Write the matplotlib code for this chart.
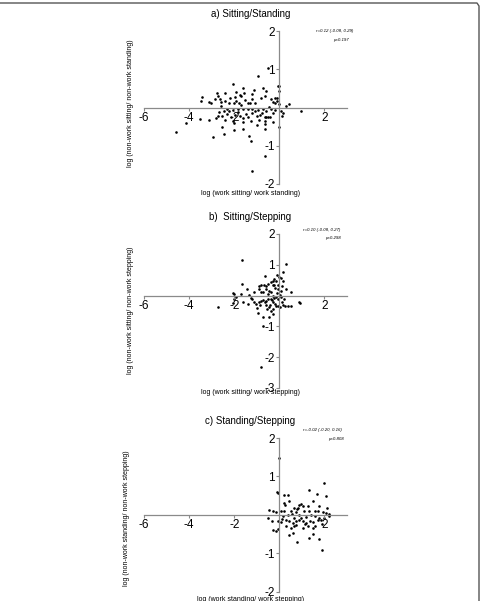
import numpy as np
import matplotlib
matplotlib.use("Agg")
import matplotlib.pyplot as plt
from matplotlib.lines import Line2D

plt.rcParams['font.family'] = ['Liberation Sans', 'DejaVu Sans']
plt.rcParams['axes.unicode_minus'] = False

# a) Sitting/Standing
a_x = [-0.52, -0.96, -2.07, -1.59, -0.71, -0.04, 0.00, -0.03, -0.59, -1.11, -1.94, -1.75,
       -2.43, -2.77, -2.74, -3.44, -3.48, -3.14, -3.02, -2.64, -2.59, -2.22, -2.18, -1.69,
       -1.57, -1.19, -1.21, -1.08, -0.83, -0.65, -0.36, -0.18, -0.12, -0.28, -0.21, -0.12,
       -0.03, -1.90, -2.00, -1.53, -1.41, -1.30, -2.40, -1.81, 0.30, 0.44, 0.96, 0.06,
       0.15, 0.13, 0.00, -2.67, -2.47, -2.22, -2.07, -1.85, -1.63, -1.41, -1.21, -0.96,
       -0.74, -0.59, -0.37, -0.19, -2.71, -2.52, -2.30, -2.15, -1.96, -1.75, -1.60, -1.41,
       -1.19, -1.01, -0.77, -0.65, -0.59, -0.50, -0.41, -0.27, -4.15, -3.52, -3.10, -2.81,
       -2.40, -2.07, -2.03, -1.59, -1.26, -0.89, -0.64, -0.64, -2.52, -2.03, -1.63, -0.64,
       -4.59, -2.96, -2.47, -1.33, -1.24, -0.64, -1.23, -2.30, -1.85, -1.50, -1.10, -0.85,
       -2.60, -1.70, -0.45, -1.95, -1.00, -2.85, -0.30]
a_y = [1.03, 0.83, 0.62, 0.51, 0.51, 0.56, 0.56, 0.43, 0.42, 0.46, 0.40, 0.33,
       0.37, 0.37, 0.29, 0.28, 0.16, 0.14, 0.12, 0.22, 0.14, 0.13, 0.24, 0.29,
       0.37, 0.35, 0.23, 0.13, 0.26, 0.29, 0.22, 0.26, 0.26, 0.14, 0.13, 0.16,
       0.10, 0.18, 0.13, 0.20, 0.13, 0.11, 0.16, 0.11, 0.05, 0.09, -0.10, -0.10,
       -0.15, -0.22, -0.50, -0.11, -0.10, -0.08, -0.06, -0.04, -0.04, -0.03, -0.04, -0.06,
       -0.04, -0.08, -0.04, -0.06, -0.23, -0.23, -0.17, -0.25, -0.19, -0.22, -0.28, -0.25,
       -0.15, -0.22, -0.15, -0.25, -0.25, -0.25, -0.25, -0.15, -0.41, -0.29, -0.32, -0.28,
       -0.32, -0.34, -0.41, -0.37, -0.34, -0.32, -0.35, -0.43, -0.50, -0.58, -0.57, -0.57,
       -0.63, -0.76, -0.69, -0.74, -0.87, -1.28, -1.65, -0.05, -0.12, -0.18, -0.08, -0.20,
       0.05, 0.06, 0.02, 0.28, -0.45, 0.22, -0.38]

# b) Sitting/Stepping
b_x = [-1.67, 0.30, 0.15, -1.67, -0.62, -0.09, 0.00, 0.09, -0.22, -0.30, -0.15, 0.18,
       -0.39, -0.52, -0.67, -0.81, -0.89, -0.59, -0.30, -0.22, -0.04, 0.10, -0.89, -0.81,
       -0.59, -0.44, -0.18, -0.06, 0.07, -0.37, -0.71, -1.45, -1.11, 0.53, 0.30, -2.07,
       -2.00, -1.70, -1.33, -2.70, -2.00, -2.07, -1.60, -1.41, -1.21, -1.11, -1.04, -0.92,
       -0.81, -0.71, -0.59, -0.52, -1.01, -0.96, -0.74, -0.47, -0.74, -0.59, -0.47, -0.41,
       -0.30, -0.21, -0.15, -0.37, -0.30, -0.07, 0.04, 0.15, 0.24, 0.37, 0.53, 0.89,
       -0.37, -0.22, -0.15, -0.04, 0.07, 0.22, -0.81, 0.93, -0.50, -0.26, -0.10, 0.05,
       -1.90, -1.25, -0.65, -0.33, 0.12, -0.55, -0.85, -0.28]
b_y = [1.16, 1.02, 0.78, 0.38, 0.63, 0.67, 0.60, 0.57, 0.54, 0.49, 0.49, 0.48,
       0.43, 0.37, 0.35, 0.35, 0.30, 0.30, 0.33, 0.35, 0.35, 0.30, 0.22, 0.13,
       0.20, 0.16, 0.24, 0.20, 0.14, 0.11, 0.11, 0.20, 0.11, 0.11, 0.20, 0.09,
       0.04, 0.04, 0.02, -0.38, -0.11, -0.24, -0.22, -0.27, -0.11, -0.20, -0.27, -0.22,
       -0.16, -0.13, -0.16, -0.11, -0.41, -0.57, -0.71, -0.71, -1.00, -0.30, -0.38, -0.30,
       -0.22, -0.27, -0.33, -0.49, -0.43, -0.33, -0.38, -0.30, -0.35, -0.33, -0.33, -0.22,
       -0.11, -0.09, -0.05, -0.11, -0.05, -0.11, -2.33, -0.25, 0.05, -0.02, 0.08, 0.02,
       -0.05, -0.08, -0.20, -0.15, -0.20, -0.45, -0.32, -0.60]

# c) Standing/Stepping
c_x = [0.00, 2.00, -0.12, -0.07, 1.33, 0.22, 0.37, 2.07, 1.66, 1.48, 0.19, 0.24,
       0.44, 0.89, 0.96, 0.67, 0.81, 1.04, 1.26, 1.78, 2.13, -0.44, -0.30, -0.15,
       0.07, 0.22, 0.52, 0.74, 1.11, 1.33, 1.56, 1.70, 1.93, 2.07, 2.19, -0.52,
       -0.33, -0.07, 0.07, 0.30, 0.44, 0.59, 0.74, 0.89, 1.07, 1.19, 1.36, 1.50,
       1.70, 1.85, 1.99, 2.21, -0.30, -0.15, -0.06, 0.30, 0.52, 0.67, 0.74, 1.04,
       1.26, 1.48, 1.60, 0.44, 0.59, 0.77, 1.33, 1.48, 1.78, 1.88, 0.15, 0.37,
       0.67, 0.89, 1.19, 1.56, 1.78, 0.55, 0.95, 1.40, 1.90, 0.10, 0.80, 1.15]
c_y = [1.48, 0.84, 0.59, 0.56, 0.65, 0.52, 0.52, 0.48, 0.54, 0.35, 0.30, 0.26,
       0.37, 0.26, 0.28, 0.17, 0.19, 0.22, 0.23, 0.24, 0.17, 0.13, 0.09, 0.07,
       0.10, 0.09, 0.09, 0.07, 0.10, 0.09, 0.10, 0.10, 0.07, 0.04, 0.03, -0.09,
       -0.16, -0.17, -0.19, -0.13, -0.17, -0.22, -0.16, -0.13, -0.17, -0.22, -0.16, -0.19,
       -0.14, -0.13, -0.09, -0.04, -0.39, -0.43, -0.38, -0.30, -0.35, -0.30, -0.26, -0.35,
       -0.30, -0.35, -0.30, -0.52, -0.48, -0.70, -0.59, -0.50, -0.63, -0.91, -0.04, -0.01,
       -0.07, -0.01, -0.05, -0.04, -0.07, 0.02, -0.08, 0.00, -0.25, -0.10, 0.15, -0.25]

panels = [
    dict(x=a_x, y=a_y, ylim=(-2, 2), yticks=[-2, -1, 1, 2],
         title="a) Sitting/Standing",
         xlabel="log (work sitting/ work standing)",
         ylabel="log (non-work sitting/ non-work standing)",
         r="r=0.12 (-0.08, 0.29)", p="p=0.197",
         rect=[144/483, 1-184/601, 203/483, 153/601],
         title_y=1-14/601, xlab_y=1-194/601, ylab=(131/483, 1-103/601),
         r_pos=(316/483, 1-31/601), p_pos=(349/483, 1-40/601)),
    dict(x=b_x, y=b_y, ylim=(-3, 2), yticks=[-3, -2, -1, 1, 2],
         title="b)  Sitting/Stepping",
         xlabel="log (work sitting/ work stepping)",
         ylabel="log (non-work sitting/ non-work stepping)",
         r="r=0.10 (-0.08, 0.27)", p="p=0.298",
         rect=[144/483, 1-388/601, 203/483, 154/601],
         title_y=1-217/601, xlab_y=1-393/601, ylab=(131/483, 1-310/601),
         r_pos=(303/483, 1-230/601), p_pos=(341/483, 1-238/601)),
    dict(x=c_x, y=c_y, ylim=(-2, 2), yticks=[-2, -1, 1, 2],
         title="c) Standing/Stepping",
         xlabel="log (work standing/ work stepping)",
         ylabel="log (non-work standing/ non-work stepping)",
         r="r=-0.02 (-0.20, 0.16)", p="p=0.808",
         rect=[144/483, 1-591.7/601, 203/483, 153.7/601],
         title_y=1-421/601, xlab_y=1-599.5/601, ylab=(127/483, 1-518/601),
         r_pos=(303/483, 1-430/601), p_pos=(344/483, 1-439/601)),
]

fig = plt.figure(figsize=(4.83, 6.01), dpi=100)
axis_col = '#8a8a8a'

for pnl in panels:
    ax = fig.add_axes(pnl['rect'])
    ax.scatter(pnl['x'], pnl['y'], s=3.5, color='black', linewidths=0)
    ax.set_xlim(-6, 3)
    ax.set_ylim(*pnl['ylim'])
    ax.spines['left'].set_position(('data', 0))
    ax.spines['bottom'].set_position(('data', 0))
    ax.spines['top'].set_visible(False)
    ax.spines['right'].set_visible(False)
    for s in ('left', 'bottom'):
        ax.spines[s].set_color(axis_col)
        ax.spines[s].set_linewidth(0.9)
    ax.set_xticks([-6, -4, -2, 2])
    ax.set_yticks(pnl['yticks'])
    ax.tick_params(axis='both', length=2, width=0.8, color=axis_col,
                   labelsize=8.5, pad=1)
    ax.patch.set_visible(False)

    fig.text(0.518, pnl['title_y'], pnl['title'], ha='center', va='center', fontsize=7)
    fig.text(0.518, pnl['xlab_y'], pnl['xlabel'], ha='center', va='center', fontsize=5)
    fig.text(pnl['ylab'][0], pnl['ylab'][1], pnl['ylabel'], ha='center', va='center',
             rotation=90, fontsize=5)
    fig.text(pnl['r_pos'][0], pnl['r_pos'][1], pnl['r'], ha='left', va='center',
             fontsize=3.2, style='italic')
    fig.text(pnl['p_pos'][0], pnl['p_pos'][1], pnl['p'], ha='right', va='center',
             fontsize=3.2, style='italic')

# frame around the figure (top and right edges)
fig.add_artist(Line2D([0, 477/483, 479/483, 479/483], [1-3/601, 1-3/601, 1-6/601, 0],
                      transform=fig.transFigure, color='#555555', linewidth=1.0))

fig.savefig("out.png", dpi=100)
